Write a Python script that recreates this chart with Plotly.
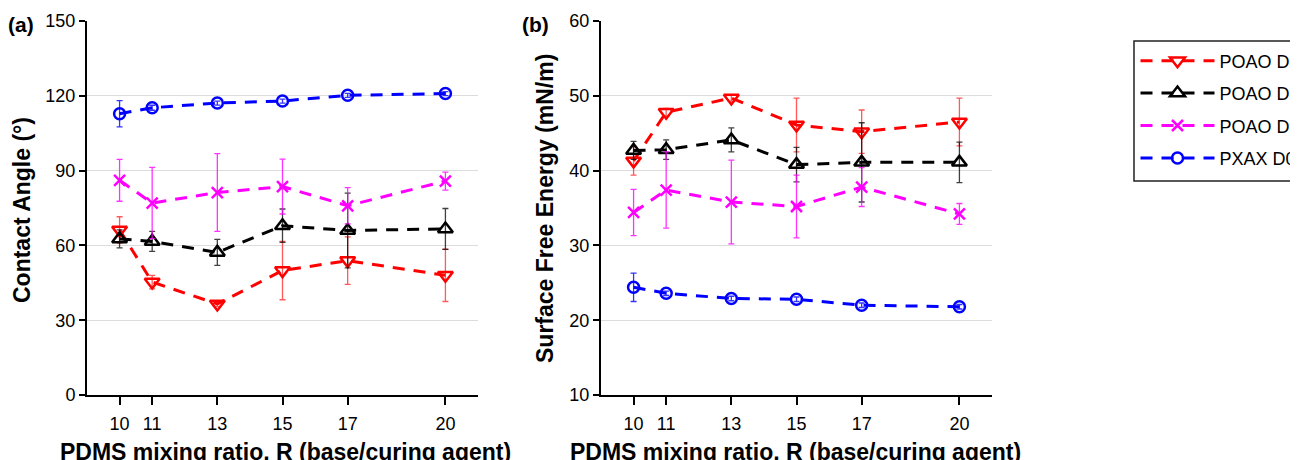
import plotly.graph_objects as go
from plotly.subplots import make_subplots

R = [10, 11, 13, 15, 17, 20]
series_names = ["POAO D0", "POAO D3", "POAO D7", "PXAX D0"]

ca_poao_d0 = [66.2, 45.3, 36.5, 49.9, 53.9, 48.0]
ca_poao_d0_err = [5.3, 2.7, 1.0, 11.7, 9.5, 10.5]
ca_poao_d3 = [62.6, 61.6, 57.2, 67.9, 66.0, 66.6]
ca_poao_d3_err = [3.6, 4.0, 5.2, 6.7, 15.0, 8.2]
ca_poao_d7 = [86.1, 77.0, 81.2, 83.6, 75.9, 85.8]
ca_poao_d7_err = [8.4, 14.3, 15.6, 11.0, 7.3, 3.6]
ca_pxax_d0 = [112.8, 115.2, 117.1, 117.9, 120.2, 120.9]
ca_pxax_d0_err = [5.3, 1.0, 0.8, 0.8, 0.8, 0.8]

sfe_poao_d0 = [41.3, 47.8, 49.7, 46.1, 45.2, 46.5]
sfe_poao_d0_err = [1.9, 0.5, 0.4, 3.6, 2.9, 3.2]
sfe_poao_d3 = [42.7, 42.8, 44.1, 40.8, 41.1, 41.1]
sfe_poao_d3_err = [1.2, 1.3, 1.6, 2.3, 5.3, 2.7]
sfe_poao_d7 = [34.4, 37.4, 35.8, 35.2, 37.8, 34.2]
sfe_poao_d7_err = [3.1, 5.1, 5.6, 4.2, 2.6, 1.4]
sfe_pxax_d0 = [24.4, 23.6, 22.9, 22.8, 22.0, 21.8]
sfe_pxax_d0_err = [1.9, 0.3, 0.3, 0.3, 0.3, 0.3]

ca_ticks = [0, 30, 60, 90, 120, 150]
sfe_ticks = [10, 20, 30, 40, 50, 60]

styles = [
    dict(color="#ff0000", err="rgba(255,0,0,0.65)", symbol="triangle-down-open", size=13),
    dict(color="#000000", err="rgba(0,0,0,0.75)", symbol="triangle-up-open", size=13),
    dict(color="#ff00ff", err="rgba(255,0,255,0.8)", symbol="x-thin-open", size=11),
    dict(color="#0000ff", err="rgba(0,0,255,0.8)", symbol="circle-open", size=11),
]

FONT = "Arial, 'Liberation Sans', sans-serif"

fig = make_subplots(rows=1, cols=2, horizontal_spacing=0.136)

panel_a = [(ca_poao_d0, ca_poao_d0_err), (ca_poao_d3, ca_poao_d3_err),
           (ca_poao_d7, ca_poao_d7_err), (ca_pxax_d0, ca_pxax_d0_err)]
panel_b = [(sfe_poao_d0, sfe_poao_d0_err), (sfe_poao_d3, sfe_poao_d3_err),
           (sfe_poao_d7, sfe_poao_d7_err), (sfe_pxax_d0, sfe_pxax_d0_err)]

for col, panel in ((1, panel_a), (2, panel_b)):
    for i, (vals, errs) in enumerate(panel):
        st = styles[i]
        fig.add_trace(go.Scatter(
            x=R, y=vals, name=series_names[i], legendgroup=series_names[i],
            showlegend=(col == 1), mode="lines+markers",
            line=dict(color=st["color"], width=3, dash="12px,9px"),
            marker=dict(symbol=st["symbol"], size=st["size"], color=st["color"],
                        line=dict(color=st["color"], width=2.5)),
            error_y=dict(type="data", array=errs, visible=True, color=st["err"],
                         thickness=1.3, width=3),
        ), row=1, col=col)

axis_common = dict(showline=True, linecolor="black", linewidth=2, ticks="outside",
                   tickcolor="black", tickwidth=2, mirror=False,
                   tickfont=dict(family=FONT, size=18, color="black"))

for col in (1, 2):
    fig.update_xaxes(range=[9, 21], tickvals=R, ticktext=[str(v) for v in R],
                     ticklen=8, showgrid=False, zeroline=False, ticklabelstandoff=3,
                     row=1, col=col, **axis_common)

fig.update_yaxes(range=[0, 150], tickvals=ca_ticks, ticklen=6, showgrid=True,
                 gridcolor="#dcdcdc", gridwidth=1, zeroline=False, row=1, col=1,
                 **axis_common)
fig.update_yaxes(range=[10, 60], tickvals=sfe_ticks, ticklen=6, showgrid=True,
                 gridcolor="#dcdcdc", gridwidth=1, zeroline=False, row=1, col=2,
                 **axis_common)

# page body has an 8px margin; figure coordinates are page coordinates minus 8
OFF = 8
W, H = 1290, 460
L, T = 87 - OFF, 21 - OFF
Rm = W - (992 - OFF)
B = H - (395 - OFF)
pw = W - L - Rm
ph = H - T - B
fig.update_xaxes(domain=[0, (478 - 87) / pw], row=1, col=1)
fig.update_xaxes(domain=[(601 - 87) / pw, 1], row=1, col=2)


def px(xp):
    return (xp - 87) / pw


def py(yp):
    return (395 - yp) / ph


annots = [
    dict(text="<b>Contact Angle (°)</b>", x=px(22), y=py(210), textangle=-90, size=23),
    dict(text="<b>Surface Free Energy (mN/m)</b>", x=px(545), y=py(209), textangle=-90, size=23),
    dict(text="<b>PDMS mixing ratio, R (base/curing agent)</b>", x=px(285), y=py(452), textangle=0, size=23),
    dict(text="<b>PDMS mixing ratio, R (base/curing agent)</b>", x=px(795), y=py(452), textangle=0, size=23),
    dict(text="<b>(a)</b>", x=px(21), y=py(24), textangle=0, size=21),
    dict(text="<b>(b)</b>", x=px(535), y=py(24), textangle=0, size=21),
]
for a in annots:
    fig.add_annotation(text=a["text"], x=a["x"], y=a["y"], xref="paper", yref="paper",
                       xanchor="center", yanchor="middle", textangle=a["textangle"],
                       showarrow=False, font=dict(family=FONT, size=a["size"], color="black"))

# legend frame (runs past the right edge of the figure, as in the reference)
fig.add_shape(type="rect", xref="paper", yref="paper",
              x0=px(1134), x1=px(1360), y0=py(181), y1=py(41),
              line=dict(color="#222222", width=1.5), fillcolor="rgba(0,0,0,0)", layer="above")

fig.update_layout(
    width=W, height=H,
    margin=dict(l=L, r=Rm, t=T, b=B, autoexpand=False),
    plot_bgcolor="white", paper_bgcolor="white",
    font=dict(family=FONT, color="black"),
    legend=dict(x=px(1135.5), y=py(42.5), xanchor="left", yanchor="top",
                borderwidth=0, bgcolor="rgba(0,0,0,0)",
                font=dict(family=FONT, size=18, color="black"),
                itemwidth=74, traceorder="grouped", tracegroupgap=6),
)

# hide the page scrollbars so the figure reaches the window's right edge
fig.write_html("out.html",
               post_script="document.documentElement.style.overflow='hidden';"
                           "document.body.style.overflow='hidden';")
